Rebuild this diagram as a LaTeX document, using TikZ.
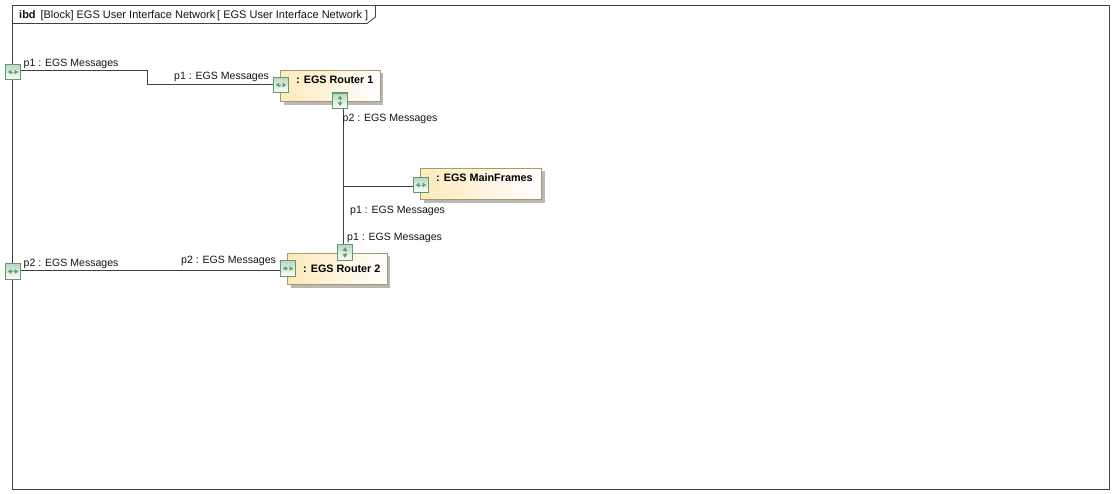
\documentclass[tikz,border=0pt]{standalone}
\usepackage{fontspec}
\setmainfont{Liberation Sans}
\usetikzlibrary{arrows.meta, shadows}

\definecolor{framegray}{HTML}{404040}
\definecolor{blockedge}{HTML}{A89B62}
\definecolor{blockfill}{HTML}{FDEABB}
\definecolor{blockmid}{HTML}{FEF4D9}
\definecolor{portedge}{HTML}{5F9B70}
\definecolor{portfill}{HTML}{BDD5C3}
\definecolor{portmark}{HTML}{5FA070}

\tikzset{
    block/.style={draw=blockedge, line width=1pt, left color=blockfill, middle color=blockmid, right color=white,
        drop shadow={shadow xshift=3pt, shadow yshift=-3pt, fill=black!28, opacity=1},
        minimum height=31.5pt, inner sep=0pt, anchor=north west},
    blocktext/.style={font=\fontsize{10.8}{12}\selectfont\bfseries, text=black, anchor=base west, inner sep=0pt},
    msglabel/.style={font=\fontsize{10.55}{12}\selectfont, text=black!92, anchor=base west, inner sep=0pt},
    port/.style={draw=portedge, line width=1.2pt, top color=portfill, bottom color=white,
        minimum size=15.5pt, inner sep=0pt},
    wire/.style={draw=framegray, line width=0.9pt},
    porttip/.style={portmark, line width=0.9pt, -{Latex[length=3.8pt,width=5.2pt]}}
}

\begin{document}
\begin{tikzpicture}[x=1pt, y=-1pt]
\useasboundingbox (0,0) rectangle (1115,494);
\fill[white] (0,0) rectangle (1115,494);

% Diagram frame and title tab
\draw[framegray, line width=1pt] (12.5,5.5) rectangle (1109.5,489.5);
\draw[framegray, line width=0.8pt] (12.5,23.5) -- (367,23.5) -- (375.5,17) -- (375.5,5.5);
\node[font=\fontsize{11}{12}\selectfont, anchor=base west, inner sep=0pt, text=black!92] (title) at (19,18.5)
    {\textbf{ibd}\, [Block] EGS User Interface Network\,[ EGS User Interface Network ]};

% Blocks
\node[block, minimum width=99.5pt] (router1) at (280,70) {};
\node[block, minimum width=121pt] (mainframes) at (420,168) {};
\node[block, minimum width=99.5pt] (router2) at (287,252.5) {};

\node[blocktext] (router1text) at (296,84) {: EGS Router 1};
\node[blocktext] (mainframestext) at (436,182) {: EGS MainFrames};
\node[blocktext] (router2text) at (303,272) {: EGS Router 2};

% Ports
\node[port] (p1outer) at (13,72) {};
\node[port] (p2outer) at (13,271.5) {};
\node[port] (r1west) at (281,85) {};
\node[port] (r1south) at (340,100.8) {};
\node[port] (mfwest) at (421,185) {};
\node[port] (r2west) at (288,268.5) {};
\node[port] (r2north) at (345,252.5) {};

\foreach \p in {p1outer, p2outer, r1west, mfwest, r2west} {
    \draw[porttip] ([xshift=-0.5pt]\p.center) -- ([xshift=-5.5pt]\p.center);
    \draw[porttip] ([xshift=0.5pt]\p.center) -- ([xshift=5.5pt]\p.center);
}
\foreach \p in {r1south, r2north} {
    \draw[porttip] ([yshift=-0.5pt]\p.center) -- ([yshift=-5.5pt]\p.center);
    \draw[porttip] ([yshift=0.5pt]\p.center) -- ([yshift=5.5pt]\p.center);
}

% Connectors
\coordinate (bendtop) at (147.5,70.5);
\coordinate (bendlow) at (147.5,84.5);
\coordinate (trunk) at (343.5,186.3);
\draw[wire] (p1outer.east |- bendtop) -- (bendtop) -- (bendlow) -- (r1west.west |- bendlow);
\draw[wire] (r1south.south -| trunk) -- (r2north.north -| trunk);
\draw[wire] (trunk) -- (mfwest.west |- trunk);
\draw[wire] (p2outer.east |- 0,270.5) -- (r2west.west |- 0,270.5);

% Port labels
\node[msglabel] (lab1) at (23.5,66.5) {p1 : EGS Messages};
\node[msglabel] (lab2) at (174,79.5) {p1 : EGS Messages};
\node[msglabel] (lab3) at (342.5,121.5) {p2 : EGS Messages};
\node[msglabel] (lab4) at (350,213.5) {p1 : EGS Messages};
\node[msglabel] (lab5) at (347,240.5) {p1 : EGS Messages};
\node[msglabel] (lab6) at (181,263.5) {p2 : EGS Messages};
\node[msglabel] (lab7) at (23.5,266.5) {p2 : EGS Messages};

\end{tikzpicture}
\end{document}
